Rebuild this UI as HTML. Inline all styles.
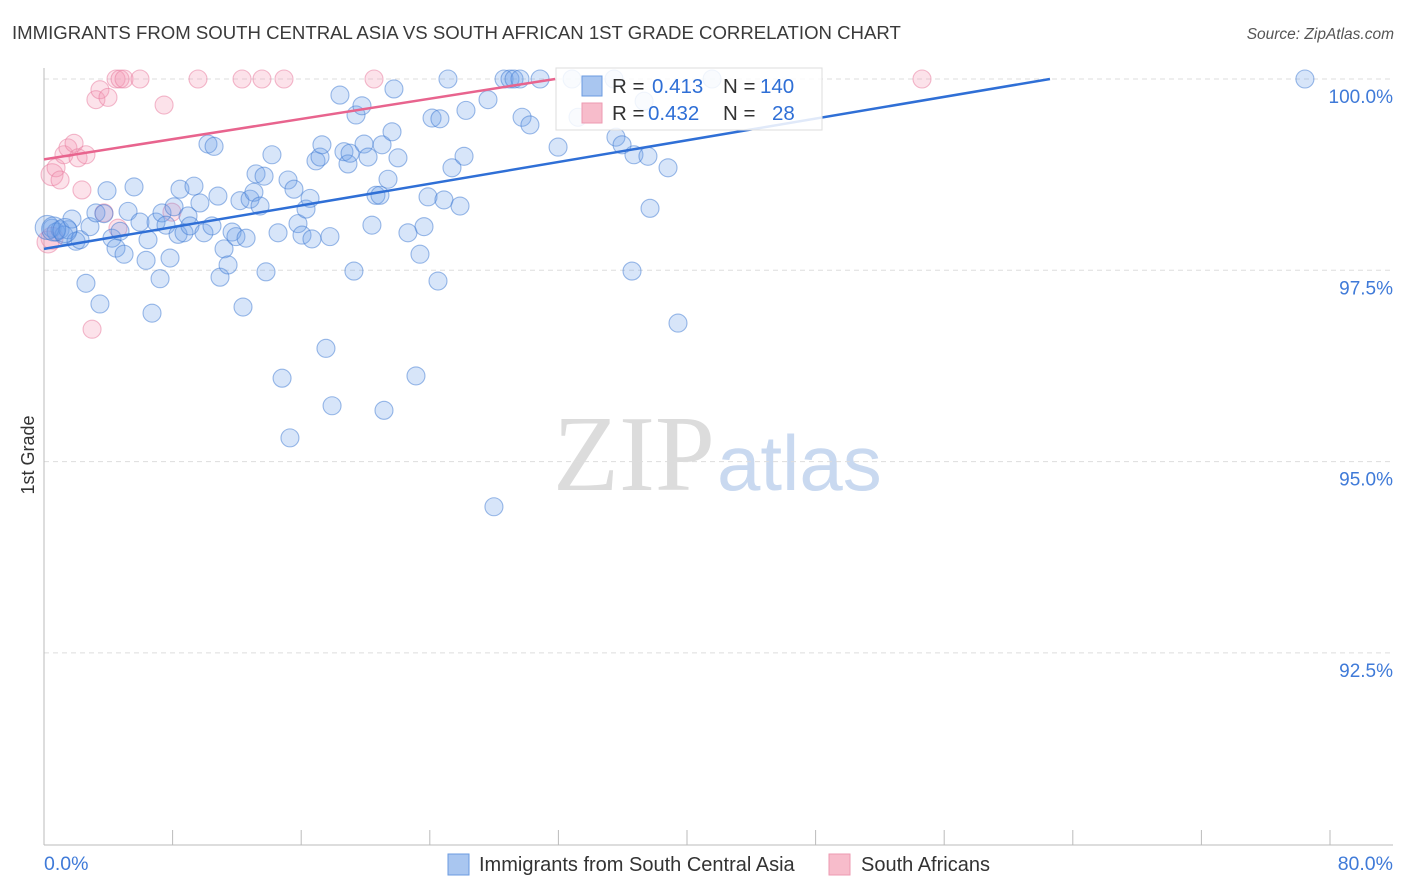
<!DOCTYPE html>
<html><head><meta charset="utf-8"><style>
body{margin:0;background:#fff;font-family:"Liberation Sans",sans-serif;}
#c{position:relative;width:1406px;height:892px;overflow:hidden;}
</style></head><body>
<div id="c">
<svg id="s" width="1406" height="892">
<text x="12" y="39" font-size="18.6" fill="#3a3a3a">IMMIGRANTS FROM SOUTH CENTRAL ASIA VS SOUTH AFRICAN 1ST GRADE CORRELATION CHART</text>
<text x="1394" y="39" font-size="15.5" fill="#555" font-style="italic" text-anchor="end">Source: ZipAtlas.com</text>
<text x="553" y="490" font-family="Liberation Serif,serif" font-size="108" fill="#dcdcdc">ZIP</text>
<text x="717" y="490" font-size="78" fill="#c9d9f0">atlas</text>
<text x="34" y="455" font-size="18" fill="#333" transform="rotate(-90 34 455)" text-anchor="middle">1st Grade</text>
<g id="grid"></g><g id="pts"></g><g id="lines"></g>
<g>
<rect x="556" y="68" width="266" height="62" fill="#fff" fill-opacity="0.85" stroke="#ddd"/>
<rect x="582" y="76" width="20" height="20" fill="#a9c6f0" stroke="#6b9be0"/>
<rect x="582" y="103" width="20" height="20" fill="#f7bccb" stroke="#ee9ab2"/>
<text y="93" font-size="20.5"><tspan x="612" fill="#333">R = </tspan><tspan x="652" fill="#2f6fd6">0.413</tspan><tspan x="723" fill="#333">N = </tspan><tspan x="760" fill="#2f6fd6">140</tspan></text>
<text y="120" font-size="20.5"><tspan x="612" fill="#333">R = </tspan><tspan x="648" fill="#2f6fd6">0.432</tspan><tspan x="723" fill="#333">N = </tspan><tspan x="772" fill="#2f6fd6">28</tspan></text>
</g>
<text x="44" y="870" font-size="19.5" fill="#3f7ad8">0.0%</text>
<text x="1393" y="870" font-size="19.5" fill="#3f7ad8" text-anchor="end">80.0%</text>
<rect x="448" y="854" width="21" height="21" fill="#a9c6f0" stroke="#6b9be0"/>
<text x="479" y="871" font-size="20" fill="#333">Immigrants from South Central Asia</text>
<rect x="829" y="854" width="21" height="21" fill="#f7bccb" stroke="#ee9ab2"/>
<text x="861" y="871" font-size="20" fill="#333">South Africans</text>
</svg>
</div>
<script>
const blueX=[0.50,0.75,1.00,1.24,1.49,1.74,1.99,2.24,2.61,2.86,3.23,3.48,3.73,3.92,4.23,4.48,4.73,4.98,5.23,5.60,5.97,6.35,6.47,6.72,6.97,7.22,7.34,7.59,7.84,8.09,8.34,8.46,8.71,8.96,9.08,9.33,9.70,9.95,10.20,10.58,10.45,10.82,10.95,11.20,11.45,11.70,11.94,12.19,12.38,12.57,12.82,13.06,13.19,13.44,13.69,13.81,14.18,14.56,14.81,15.18,15.30,15.55,15.80,16.05,16.30,16.55,16.67,16.92,17.17,17.29,17.54,17.79,17.92,18.41,18.66,18.91,19.04,19.28,19.41,19.78,19.91,20.16,20.40,20.65,20.90,21.03,21.15,21.40,21.65,21.77,22.02,22.64,23.14,23.39,23.64,23.89,24.14,24.51,24.63,24.88,25.13,25.38,25.88,26.13,26.25,27.62,27.99,28.62,28.99,29.24,29.61,29.74,30.23,30.86,31.98,32.85,33.22,35.46,35.58,35.96,36.58,36.70,37.33,37.57,37.70,38.82,39.44,41.56,78.44,0.2,0.6,1.3];
const blueY=[98.05,98.00,98.03,97.96,98.03,98.17,97.88,97.90,97.33,98.07,98.25,97.06,98.24,98.54,97.92,97.79,98.01,97.71,98.27,98.59,98.13,97.63,97.90,96.94,98.13,97.39,98.25,98.09,97.66,98.33,97.97,98.56,97.99,98.21,98.08,98.60,98.38,97.99,99.15,99.12,98.08,98.47,97.41,97.78,97.57,98.00,97.94,98.41,97.02,97.92,98.43,98.52,98.76,98.34,98.73,97.48,99.01,97.99,96.09,98.68,95.31,98.56,98.11,97.96,98.30,98.44,97.91,98.93,98.98,99.14,96.48,97.94,95.73,99.79,99.05,98.89,99.03,97.49,99.53,99.65,99.15,98.98,98.09,98.48,98.48,99.14,95.67,98.69,99.31,99.87,98.97,97.99,96.12,97.71,98.07,98.46,99.49,97.36,99.48,98.42,100,98.84,98.34,98.99,99.59,99.73,94.41,100,100,100,100,99.50,99.40,100,99.11,100,99.50,100,99.24,99.14,97.49,99.01,99.71,98.99,98.31,98.84,96.81,100,100,98.06,98.04,98.02];
const pinkX=[0.50,0.50,0.25,0.75,1.00,1.24,1.49,1.87,2.12,2.36,2.61,2.99,3.23,3.48,3.98,4.48,4.73,4.98,5.97,7.47,7.96,4.60,3.73,9.58,12.32,13.56,14.93,20.53,54.62];
const pinkY=[98.75,97.92,97.87,98.84,98.68,99.01,99.10,99.16,98.97,98.55,99.01,96.73,99.73,99.86,99.76,100,100,100,100,99.66,98.26,98.05,98.25,100,100,100,100,100,100];
const blueLineX=[0,62.58], blueLineY=[97.78,100];
const pinkLineX=[0,31.8], pinkLineY=[98.95,100];
const yTicks=[100,97.5,95,92.5];
const yTickLabels=["100.0%","97.5%","95.0%","92.5%"];
const xTicks=[0,8,16,24,32,40,48,56,64,72,80];

const NS="http://www.w3.org/2000/svg";
const X=v=>44+v*1286/80;
const Y=v=>79+(100-v)*76.52;
function mk(tag,attrs,parent){const e=document.createElementNS(NS,tag);for(const k in attrs)e.setAttribute(k,attrs[k]);parent.appendChild(e);return e;}
const grid=document.getElementById('grid'),pts=document.getElementById('pts'),lines=document.getElementById('lines');
yTicks.forEach((t,i)=>{
 const l=mk('line',{x1:44,x2:1393,y1:Y(t),y2:Y(t),stroke:'#ddd','stroke-dasharray':'5,4'},grid);
 
 
 const tx=mk('text',{x:1393,y:Y(t)+24,'font-size':19,fill:'#3f7ad8','text-anchor':'end'},grid);
 tx.textContent=yTickLabels[i];
 
 
});
let ax=mk('line',{x1:44,x2:44,y1:68,y2:845,stroke:'#bbb'},grid);


ax=mk('line',{x1:44,x2:1393,y1:845,y2:845,stroke:'#bbb'},grid);


xTicks.forEach(t=>{
 const l=mk('line',{x1:X(t),x2:X(t),y1:830,y2:845,stroke:'#bbb'},grid);
 
 
});
pinkX.forEach((x,i)=>{
 const c=mk('circle',{cx:X(x),cy:Y(pinkY[i]),r:i<3?11:9,fill:'rgba(244,150,178,0.28)',stroke:'rgba(232,120,155,0.5)','stroke-width':1.1},pts);
 
 
});
blueX.forEach((x,i)=>{
 const c=mk('circle',{cx:X(x),cy:Y(blueY[i]),r:i>=blueX.length-3?12:9,fill:'rgba(110,160,232,0.28)',stroke:'rgba(60,120,210,0.5)','stroke-width':1.1},pts);
 
 
});
let tl=mk('line',{x1:X(blueLineX[0]),y1:Y(blueLineY[0]),x2:X(blueLineX[1]),y2:Y(blueLineY[1]),stroke:'#2f6fd6','stroke-width':2.5},lines);


tl=mk('line',{x1:X(pinkLineX[0]),y1:Y(pinkLineY[0]),x2:X(pinkLineX[1]),y2:Y(pinkLineY[1]),stroke:'#e8648e','stroke-width':2.5},lines);


</script>
</body></html>
